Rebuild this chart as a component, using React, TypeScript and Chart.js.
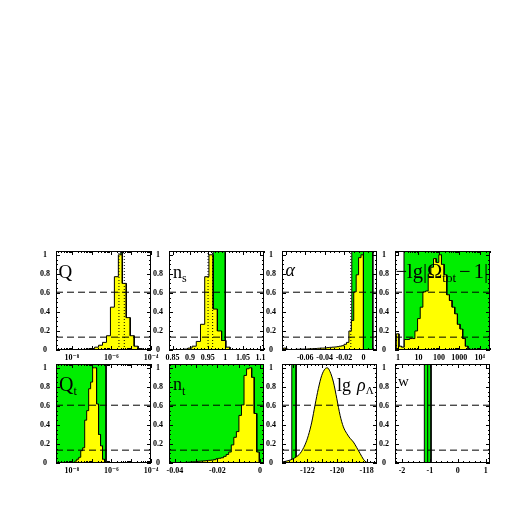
import React, { useEffect, useRef } from "react";
import { Chart, registerables } from "chart.js";

Chart.register(...registerables);

// ---------- data ----------
const Y_LABELS = [0, 0.2, 0.4, 0.6, 0.8, 1];
const LEVEL_1SIGMA = 0.607;
const LEVEL_2SIGMA = 0.135;
const Y_MAX = 1.04;

// Q (log10)
const Q_RANGE = [-8.8, -4.0];
const Q_LABELS = [-8, -6, -4];
const Q_BIN_START = -7.65;
const Q_BIN_WIDTH = 0.2;
const Q_HIST = [0.003, 0.006, 0.01, 0.015, 0.03, 0.05, 0.08, 0.15, 0.45, 0.77, 1.0, 0.7, 0.34, 0.15, 0.04, 0.015, 0.005];
const Q_BAND = [-5.53, -5.45];
const Q_DOTTED = [-5.62, -5.35];

// n_s
const NS_RANGE = [0.84, 1.11];
const NS_LABELS = [0.85, 0.9, 0.95, 1, 1.05, 1.1];
const NS_BIN_START = 0.8695;
const NS_BIN_WIDTH = 0.012;
const NS_HIST = [0.005, 0.01, 0.02, 0.04, 0.09, 0.27, 0.77, 1.0, 0.43, 0.2, 0.1, 0.03];
const NS_BAND = [0.9655, 1.0];
const NS_DOTTED = [0.951, 0.964];

// alpha
const AL_RANGE = [-0.084, 0.014];
const AL_LABELS = [-0.06, -0.04, -0.02, 0];
const AL_BIN_START = -0.0825;
const AL_BIN_WIDTH = 0.0025;
const AL_HIST = [0.02, 0.01, 0.005, 0.005, 0.005, 0.008, 0.008, 0.01, 0.01, 0.01, 0.012, 0.012, 0.015, 0.015, 0.018, 0.02, 0.02, 0.022, 0.025, 0.028, 0.03, 0.032, 0.035, 0.04, 0.045, 0.06, 0.08, 0.2, 0.31, 0.61, 0.79, 0.97, 1.0];
const AL_BAND = [-0.012, 0.0097];
const AL_DOTTED = [-0.013];

// -lg|Omega_tot - 1| (log10 axis)
const OM_RANGE = [-0.15, 4.5];
const OM_LABELS = [0, 1, 2, 3, 4];
const OM_BIN_START = -0.085;
const OM_BIN_WIDTH = 0.13;
const OM_HIST = [0.17, 0.04, 0.03, 0.11, 0.11, 0.12, 0.12, 0.2, 0.33, 0.45, 0.61, 0.62, 0.8, 0.87, 0.96, 0.92, 1.0, 0.9, 0.79, 0.58, 0.52, 0.45, 0.38, 0.27, 0.22, 0.12, 0.04, 0.01];
const OM_BAND = [0.29, 6];

// Q_t (log10)
const QT_BIN_START = -7.85;
const QT_BIN_WIDTH = 0.1;
const QT_HIST = [0.02, 0.04, 0.06, 0.13, 0.16, 0.45, 0.55, 0.78, 0.85, 1.0, 1.0, 0.62, 0.3, 0.18, 0.04];
const QT_BAND = [-10, -6.27];

// n_t
const NT_RANGE = [-0.0428, 0.0019];
const NT_LABELS = [-0.04, -0.02, 0];
const NT_BIN_START = -0.0375;
const NT_BIN_WIDTH = 0.0012;
const NT_HIST = [0.004, 0.005, 0.007, 0.009, 0.011, 0.013, 0.015, 0.018, 0.02, 0.022, 0.025, 0.028, 0.03, 0.035, 0.045, 0.05, 0.055, 0.07, 0.09, 0.115, 0.19, 0.27, 0.33, 0.5, 0.61, 0.92, 0.99, 1.0, 0.9, 0.52, 0.115];
const NT_BAND = [-0.06, 0.01];

// lg rho_Lambda
const RHO_RANGE = [-123.71, -117.3];
const RHO_LABELS = [-122, -120, -118];
const RHO_X = [-123.73, -123.17, -122.76, -122.49, -122.16, -121.93, -121.7, -121.48, -121.26, -121.03, -120.8, -120.65, -120.47, -120.24, -120.01, -119.79, -119.57, -119.34, -119.12, -118.89, -118.66, -118.44, -118.22, -118.03, -117.88];
const RHO_Y = [0.01, 0.03, 0.063, 0.1, 0.19, 0.29, 0.43, 0.61, 0.78, 0.92, 0.99, 1.0, 0.96, 0.85, 0.675, 0.5, 0.38, 0.31, 0.26, 0.22, 0.16, 0.1, 0.04, 0.01, 0];
const RHO_BAND = [-123.05, -122.76];

// w
const W_RANGE = [-2.25, 1.15];
const W_LABELS = [-2, -1, 0, 1];
const W_BAND = [-1.2, -0.96];
const W_BAND_LINES = [-1.08];

// ---------- layout / style ----------
const PANEL_W = 95;
const PANEL_H = 99;
const COL_X = [56, 169, 282, 395];
const ROW_Y = [251, 364];
const PAD_L = 22;
const PAD_R = 14;
const PAD_T = 6;
const PAD_B = 14;
const YELLOW = "#ffff00";
const GREEN = "#00ee00";
const SERIF = '"Liberation Serif", "DejaVu Serif", serif';
const SUPS: Record<string, string> = { "-": "⁻", "0": "⁰", "1": "¹", "2": "²", "3": "³", "4": "⁴", "5": "⁵", "6": "⁶", "7": "⁷", "8": "⁸", "9": "⁹" };

function sup(n: number) {
  return String(n).split("").map((c) => SUPS[c] || c).join("");
}
function linTicks(min: number, max: number, step: number) {
  const out: number[] = [];
  const s = Math.ceil(min / step - 1e-9);
  for (let k = s; k * step <= max + 1e-9; k++) out.push(+(k * step).toFixed(10));
  return out;
}
function logMinor(min: number, max: number) {
  const out: number[] = [];
  for (let d = Math.floor(min) - 1; d <= Math.ceil(max); d++)
    for (let m = 2; m <= 9; m++) {
      const v = d + Math.log10(m);
      if (v >= min && v <= max) out.push(v);
    }
  return out;
}
function histPoints(start: number, width: number, values: number[]) {
  const pts = [{ x: start, y: 0 }];
  values.forEach((v, i) => {
    pts.push({ x: start + i * width, y: v });
    pts.push({ x: start + (i + 1) * width, y: v });
  });
  pts.push({ x: start + values.length * width, y: 0 });
  return pts;
}
const fmtPow = (v: number) => "10" + sup(Math.round(v));
const fmtOm = (v: number) => (v < 4 ? String(Math.round(Math.pow(10, v))) : "10" + sup(Math.round(v)));
const fmtNum = (v: number) => String(+v.toFixed(4));

interface Spec {
  col: number;
  row: number;
  range: number[];
  labels: number[];
  fmt: (v: number) => string;
  xMajor: number[];
  xMinor: number[];
  hist?: { start: number; width: number; values: number[] };
  curve?: { x: number[]; y: number[] };
  bands: number[][];
  bandLines?: number[];
  dotted?: number[];
}

const SPECS: Spec[] = [
  { col: 0, row: 0, range: Q_RANGE, labels: Q_LABELS, fmt: fmtPow, xMajor: linTicks(Q_RANGE[0], Q_RANGE[1], 1), xMinor: logMinor(Q_RANGE[0], Q_RANGE[1]), hist: { start: Q_BIN_START, width: Q_BIN_WIDTH, values: Q_HIST }, bands: [Q_BAND], dotted: Q_DOTTED },
  { col: 1, row: 0, range: NS_RANGE, labels: NS_LABELS, fmt: fmtNum, xMajor: linTicks(NS_RANGE[0], NS_RANGE[1], 0.05), xMinor: linTicks(NS_RANGE[0], NS_RANGE[1], 0.01), hist: { start: NS_BIN_START, width: NS_BIN_WIDTH, values: NS_HIST }, bands: [NS_BAND], dotted: NS_DOTTED },
  { col: 2, row: 0, range: AL_RANGE, labels: AL_LABELS, fmt: fmtNum, xMajor: linTicks(AL_RANGE[0], AL_RANGE[1], 0.02), xMinor: linTicks(AL_RANGE[0], AL_RANGE[1], 0.005), hist: { start: AL_BIN_START, width: AL_BIN_WIDTH, values: AL_HIST }, bands: [AL_BAND], dotted: AL_DOTTED },
  { col: 3, row: 0, range: OM_RANGE, labels: OM_LABELS, fmt: fmtOm, xMajor: linTicks(OM_RANGE[0], OM_RANGE[1], 1), xMinor: logMinor(OM_RANGE[0], OM_RANGE[1]), hist: { start: OM_BIN_START, width: OM_BIN_WIDTH, values: OM_HIST }, bands: [OM_BAND] },
  { col: 0, row: 1, range: Q_RANGE, labels: Q_LABELS, fmt: fmtPow, xMajor: linTicks(Q_RANGE[0], Q_RANGE[1], 1), xMinor: logMinor(Q_RANGE[0], Q_RANGE[1]), hist: { start: QT_BIN_START, width: QT_BIN_WIDTH, values: QT_HIST }, bands: [QT_BAND] },
  { col: 1, row: 1, range: NT_RANGE, labels: NT_LABELS, fmt: fmtNum, xMajor: linTicks(NT_RANGE[0], NT_RANGE[1], 0.01), xMinor: linTicks(NT_RANGE[0], NT_RANGE[1], 0.0025), hist: { start: NT_BIN_START, width: NT_BIN_WIDTH, values: NT_HIST }, bands: [NT_BAND] },
  { col: 2, row: 1, range: RHO_RANGE, labels: RHO_LABELS, fmt: fmtNum, xMajor: linTicks(RHO_RANGE[0], RHO_RANGE[1], 1), xMinor: linTicks(RHO_RANGE[0], RHO_RANGE[1], 0.25), curve: { x: RHO_X, y: RHO_Y }, bands: [RHO_BAND] },
  { col: 3, row: 1, range: W_RANGE, labels: W_LABELS, fmt: fmtNum, xMajor: linTicks(W_RANGE[0], W_RANGE[1], 1), xMinor: linTicks(W_RANGE[0], W_RANGE[1], 0.2), bands: [W_BAND], bandLines: W_BAND_LINES },
];

const frameTicks = {
  id: "frameTicks",
  afterDatasetsDraw(chart: any, _args: any, opts: any) {
    const { ctx, chartArea: a, scales } = chart;
    const x = scales.x;
    const y = scales.y;
    ctx.save();
    ctx.strokeStyle = "#000";
    ctx.lineWidth = 1;
    ctx.beginPath();
    const xt: [number[], number][] = [[opts.xMajor, 4], [opts.xMinor, 2]];
    xt.forEach(([vals, len]) => {
      vals.forEach((v) => {
        if (v < x.min || v > x.max) return;
        const p = Math.round(x.getPixelForValue(v)) + 0.5;
        ctx.moveTo(p, a.bottom);
        ctx.lineTo(p, a.bottom - len);
        ctx.moveTo(p, a.top);
        ctx.lineTo(p, a.top + len);
      });
    });
    const yt: [number[], number][] = [[Y_LABELS, 4], [linTicks(0, Y_MAX, 0.05), 2]];
    yt.forEach(([vals, len]) => {
      vals.forEach((v) => {
        const p = Math.round(y.getPixelForValue(v)) + 0.5;
        ctx.moveTo(a.left, p);
        ctx.lineTo(a.left + len, p);
        ctx.moveTo(a.right, p);
        ctx.lineTo(a.right - len, p);
      });
    });
    ctx.stroke();
    ctx.strokeRect(a.left + 0.5, a.top + 0.5, a.right - a.left - 1, a.bottom - a.top - 1);
    ctx.restore();
  },
};

function buildConfig(spec: Spec): any {
  const [xMin, xMax] = spec.range;
  const base = { pointRadius: 0, borderColor: "#000", borderWidth: 1, fill: false, tension: 0 };
  const datasets: any[] = [];
  [LEVEL_1SIGMA, LEVEL_2SIGMA].forEach((l) =>
    datasets.push({ ...base, data: [{ x: xMin, y: l }, { x: xMax, y: l }], borderDash: [7, 4], order: 0 })
  );
  (spec.dotted || []).forEach((v) =>
    datasets.push({ ...base, data: [{ x: v, y: 0 }, { x: v, y: Y_MAX }], borderDash: [1, 2], order: 1 })
  );
  if (spec.hist)
    datasets.push({ ...base, data: histPoints(spec.hist.start, spec.hist.width, spec.hist.values), fill: "origin", backgroundColor: YELLOW, order: 2 });
  if (spec.curve) {
    const c = spec.curve;
    datasets.push({ ...base, data: c.x.map((v, i) => ({ x: v, y: c.y[i] })), fill: "origin", backgroundColor: YELLOW, cubicInterpolationMode: "monotone", order: 2 });
  }
  (spec.bandLines || []).forEach((v) =>
    datasets.push({ ...base, data: [{ x: v, y: 0 }, { x: v, y: Y_MAX + 0.5 }], order: 3 })
  );
  spec.bands.forEach(([lo, hi]) =>
    datasets.push({ ...base, data: [{ x: lo, y: 0 }, { x: lo, y: Y_MAX + 0.5 }, { x: hi, y: Y_MAX + 0.5 }, { x: hi, y: 0 }], fill: "origin", backgroundColor: GREEN, order: 4 })
  );
  const font = { family: SERIF, size: 8, weight: "bold" };
  return {
    type: "line",
    data: { datasets },
    plugins: [frameTicks],
    options: {
      animation: false,
      responsive: false,
      maintainAspectRatio: false,
      events: [],
      parsing: false,
      layout: { padding: { left: 0, top: PAD_T, right: PAD_R, bottom: 0 } },
      plugins: {
        legend: { display: false },
        tooltip: { enabled: false },
        frameTicks: { xMajor: spec.xMajor, xMinor: spec.xMinor },
      },
      scales: {
        x: {
          type: "linear",
          min: xMin,
          max: xMax,
          grid: { display: false, drawTicks: false },
          border: { display: false },
          ticks: { autoSkip: false, maxRotation: 0, minRotation: 0, padding: 3, color: "#000", font, callback: (v: number) => spec.fmt(v) },
          afterBuildTicks: (s: any) => {
            s.ticks = spec.labels.map((v) => ({ value: v }));
          },
          afterFit: (s: any) => {
            s.height = PAD_B;
            s.paddingLeft = 0;
            s.paddingRight = 0;
          },
        },
        y: {
          type: "linear",
          min: 0,
          max: Y_MAX,
          grid: { display: false, drawTicks: false },
          border: { display: false },
          ticks: { autoSkip: false, padding: 6, crossAlign: "center", color: "#000", font, callback: (v: number) => fmtNum(v) },
          afterBuildTicks: (s: any) => {
            s.ticks = Y_LABELS.map((v) => ({ value: v }));
          },
          afterFit: (s: any) => {
            s.width = PAD_L;
            s.paddingTop = 0;
            s.paddingBottom = 0;
          },
        },
      },
    },
  };
}

function PanelChart({ spec }: { spec: Spec }) {
  const ref = useRef<HTMLCanvasElement | null>(null);
  useEffect(() => {
    if (!ref.current) return;
    const chart = new Chart(ref.current, buildConfig(spec));
    return () => chart.destroy();
  }, [spec]);
  const w = PANEL_W + PAD_L + PAD_R;
  const h = PANEL_H + PAD_T + PAD_B;
  return (
    <canvas
      ref={ref}
      width={w}
      height={h}
      style={{ position: "absolute", left: COL_X[spec.col] - PAD_L, top: ROW_Y[spec.row] - PAD_T, width: w, height: h }}
    />
  );
}

function Label({ left, baseline, size, italic, children }: any) {
  return (
    <div
      style={{
        position: "absolute",
        left,
        top: baseline - 0.8375 * size,
        fontFamily: SERIF,
        fontSize: size,
        lineHeight: `${size}px`,
        whiteSpace: "nowrap",
        color: "#000",
        fontStyle: italic ? "italic" : "normal",
      }}
    >
      {children}
    </div>
  );
}
function Sub({ size, drop, italic, children, ml }: any) {
  return (
    <span style={{ fontSize: size, verticalAlign: `${-drop}px`, lineHeight: 0, fontStyle: italic ? "italic" : "normal", marginLeft: ml || 0 }}>
      {children}
    </span>
  );
}

export default function App() {
  return (
    <div style={{ position: "absolute", left: 0, top: 0, width: 518, height: 518, background: "#fff", overflow: "hidden" }}>
      {SPECS.map((s, i) => (
        <PanelChart key={i} spec={s} />
      ))}
      <Label left={58.5} baseline={278} size={19}>Q</Label>
      <Label left={173} baseline={277.7} size={18}>
        n<Sub size={12} drop={4}>s</Sub>
      </Label>
      <Label left={285.5} baseline={276.5} size={18} italic>α</Label>
      <Label left={395.5} baseline={278.5} size={20.5}>
        −lg|Ω<Sub size={13} drop={3.5}>tot</Sub>
        <span style={{ marginLeft: 3 }}>−</span>
        <span style={{ marginLeft: 3 }}>1|</span>
      </Label>
      <Label left={59} baseline={391} size={20}>
        Q<Sub size={12} drop={4}>t</Sub>
      </Label>
      <Label left={173} baseline={390} size={18}>
        n<Sub size={12} drop={5}>t</Sub>
      </Label>
      <Label left={337} baseline={391} size={18}>
        lg<span style={{ marginLeft: 6, fontStyle: "italic" }}>ρ</span>
        <Sub size={11} drop={3}>Λ</Sub>
      </Label>
      <Label left={398} baseline={387} size={15}>w</Label>
    </div>
  );
}
